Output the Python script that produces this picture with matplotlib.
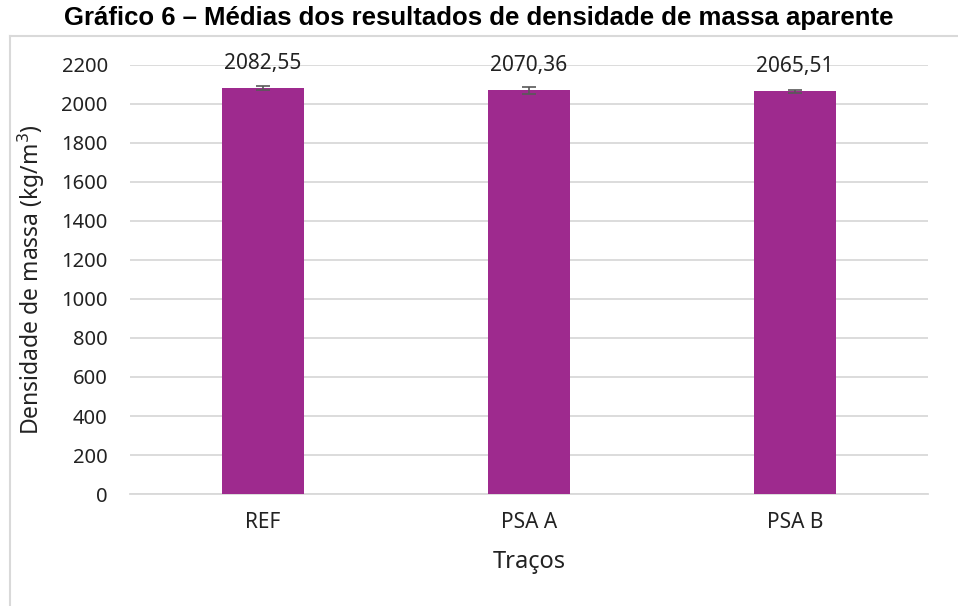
import matplotlib.pyplot as plt
from matplotlib.lines import Line2D

# dados do gráfico
tracos = ["REF", "PSA A", "PSA B"]
medias = [2082.55, 2070.36, 2065.51]
desvios = [12, 18, 8]
rotulos = ["2082,55", "2070,36", "2065,51"]
yticks = list(range(0, 2201, 200))

cor_barra = "#9E2A8E"
cor_grade = "#D9D9D9"
fonte = ["Noto Sans", "DejaVu Sans"]

fig = plt.figure(figsize=(9.58, 6.06), dpi=100)
ax = fig.add_axes([0.1357, 0.1848, 0.833, 0.708])

x = list(range(len(tracos)))
ax.bar(x, medias, width=0.31, color=cor_barra, zorder=3)
ax.errorbar(x, medias, yerr=desvios, fmt="none", ecolor="#595959",
            elinewidth=1.2, capsize=4.7, capthick=1.2, zorder=4)

for xi, v, r in zip(x, medias, rotulos):
    ax.annotate(r, (xi, v), xytext=(0, 10), textcoords="offset points",
                ha="center", va="bottom", fontsize=15, family=fonte,
                color="#222222", annotation_clip=False)

ax.set_xlim(-0.5, 2.5)
ax.set_ylim(0, 2200)
ax.set_yticks(yticks)
ax.set_yticklabels([str(t) for t in yticks], family=fonte, fontsize=14.5, color="#222222")
ax.set_xticks(x)
ax.set_xticklabels(tracos, family=fonte, fontsize=15, color="#222222")
ax.tick_params(axis="y", length=0, pad=16)
ax.tick_params(axis="x", length=0, pad=13)
ax.yaxis.grid(True, color=cor_grade, linewidth=1.3, zorder=0)
ax.set_axisbelow(True)
for s in ["top", "right", "left"]:
    ax.spines[s].set_visible(False)
ax.spines["bottom"].set_color(cor_grade)
ax.spines["bottom"].set_linewidth(1.3)

ax.set_xlabel("Traços", family=fonte, fontsize=17, color="#222222", labelpad=12)
ax.set_ylabel("Densidade de massa (kg/m$^3$)", family=fonte, fontsize=16.5,
              color="#222222", labelpad=10)

fig.text(0.5, 0.97, "Gráfico 6 – Médias dos resultados de densidade de massa aparente",
         ha="center", va="center", fontsize=18.5, fontweight="bold",
         family="Liberation Sans")

# moldura da área do gráfico (topo e lateral esquerda)
fig.add_artist(Line2D([10 / 958, 1], [1 - 36 / 606] * 2, color=cor_grade, linewidth=1.5))
fig.add_artist(Line2D([10 / 958] * 2, [0, 1 - 36 / 606], color=cor_grade, linewidth=1.5))

fig.savefig("out.png", dpi=100)
